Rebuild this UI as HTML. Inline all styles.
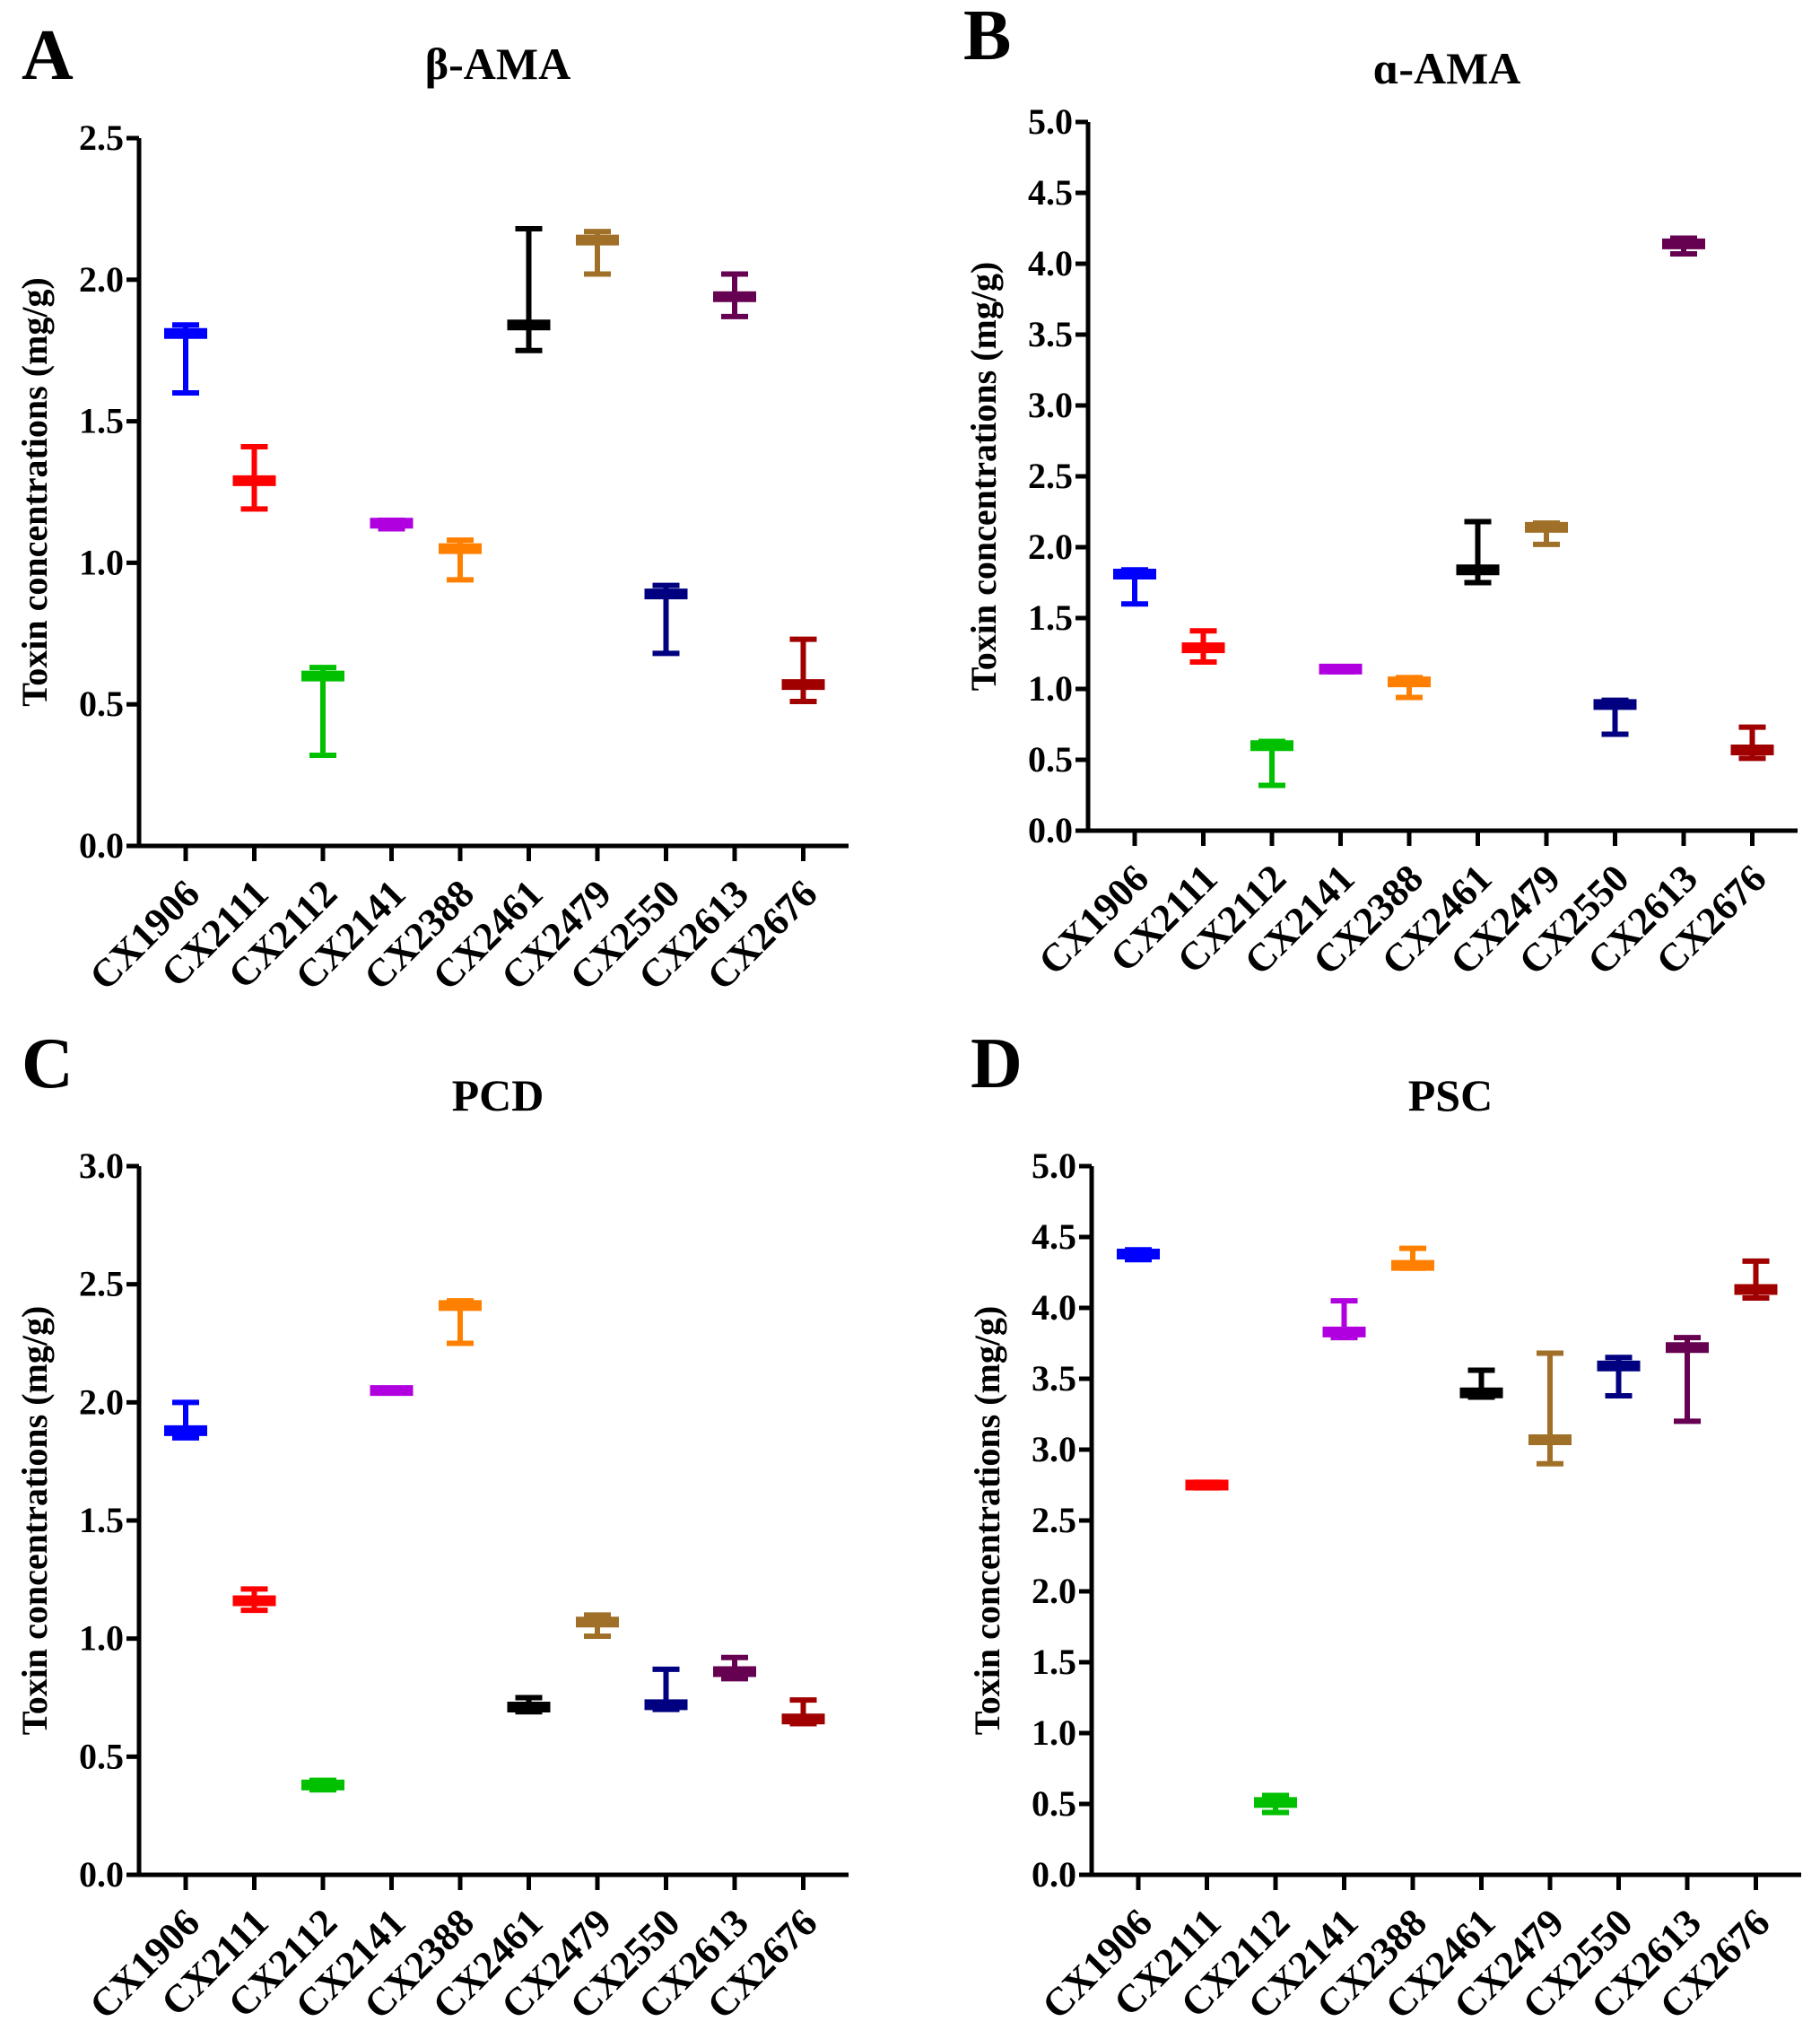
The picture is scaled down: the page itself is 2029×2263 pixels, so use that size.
<!DOCTYPE html>
<html><head><meta charset="utf-8"><style>
html,body{margin:0;padding:0;background:#fff;}
svg{display:block;font-family:"Liberation Serif",serif;font-weight:bold;}
</style></head><body>
<svg id="fig" width="2029" height="2263" viewBox="0 0 2029 2263" xmlns="http://www.w3.org/2000/svg"></svg>
<script>
const categories = ["CX1906","CX2111","CX2112","CX2141","CX2388","CX2461","CX2479","CX2550","CX2613","CX2676"];
const colors = ["#0000ff","#ff0000","#00c000","#b000e0","#ff8000","#000000","#a07028","#000080","#660050","#a00000"];
const betaMean = [1.81,1.29,0.60,1.14,1.05,1.84,2.14,0.89,1.94,0.57];
const betaLow  = [1.60,1.19,0.32,1.12,0.94,1.75,2.02,0.68,1.87,0.51];
const betaHigh = [1.84,1.41,0.63,1.15,1.08,2.18,2.17,0.92,2.02,0.73];
const alphaMean = [1.81,1.29,0.60,1.14,1.05,1.84,2.14,0.89,4.14,0.57];
const alphaLow  = [1.60,1.19,0.32,1.12,0.94,1.75,2.02,0.68,4.07,0.51];
const alphaHigh = [1.84,1.41,0.63,1.15,1.08,2.18,2.17,0.92,4.18,0.73];
const pcdMean = [1.88,1.16,0.38,2.05,2.41,0.71,1.07,0.72,0.86,0.66];
const pcdLow  = [1.85,1.12,0.36,2.04,2.25,0.69,1.01,0.70,0.83,0.64];
const pcdHigh = [2.00,1.21,0.40,2.06,2.43,0.75,1.10,0.87,0.92,0.74];
const pscMean = [4.38,2.75,0.51,3.83,4.30,3.40,3.07,3.59,3.72,4.13];
const pscLow  = [4.34,2.73,0.44,3.79,4.28,3.37,2.90,3.38,3.20,4.07];
const pscHigh = [4.41,2.77,0.56,4.05,4.42,3.56,3.68,3.65,3.79,4.33];
const ticks25 = ["0.0","0.5","1.0","1.5","2.0","2.5"];
const ticks30 = ["0.0","0.5","1.0","1.5","2.0","2.5","3.0"];
const ticks50 = ["0.0","0.5","1.0","1.5","2.0","2.5","3.0","3.5","4.0","4.5","5.0"];

const NS="http://www.w3.org/2000/svg";
const svg=document.getElementById('fig');
function mk(tag,attrs,parent){const e=document.createElementNS(NS,tag);for(const k in attrs)e.setAttribute(k,attrs[k]);(parent||svg).appendChild(e);return e;}

function panel(p){
  const g=mk('g',{});
  
  
  const x0=p.ax, y0=p.y0, yT=p.yT, xE=p.ax+791;
  const ymax=parseFloat(p.ticks[p.ticks.length-1]);
  const ys=v=>y0-(v/ymax)*(y0-yT);
  const c0=p.ax+52, step=76.5;
  const xs=i=>c0+i*step;
  const L=mk('text',{x:p.lx,y:p.ly,'font-size':80},g);L.textContent=p.letter;
  
  
  const T=mk('text',{x:p.ax+400,y:p.ty,'font-size':50,'text-anchor':'middle'},g);T.textContent=p.title;
  
  
  const yt=mk('text',{x:0,y:0,'font-size':40,'text-anchor':'middle',transform:`translate(${p.ax-103},${(y0+yT)/2}) rotate(-90)`},g);yt.textContent="Toxin concentrations (mg/g)";
  
  
  mk('line',{x1:x0,y1:yT,x2:x0,y2:y0+2.5,stroke:'#000','stroke-width':5},g);
  mk('line',{x1:x0-14,y1:y0,x2:xE,y2:y0,stroke:'#000','stroke-width':5},g);
  p.ticks.forEach(t=>{
    const y=ys(parseFloat(t));
    mk('line',{x1:x0-14,y1:y,x2:x0,y2:y,stroke:'#000','stroke-width':5},g);
    const tx=mk('text',{x:x0-17,y:y+13,'font-size':40,'text-anchor':'end'},g);tx.textContent=t;
    
    
  });
  categories.forEach((c,i)=>{
    const x=xs(i);
    mk('line',{x1:x,y1:y0,x2:x,y2:y0+17,stroke:'#000','stroke-width':5},g);
    const tx=mk('text',{x:0,y:0,'font-size':44,'text-anchor':'end',transform:`translate(${x+18},${y0+56}) rotate(-45)`},g);tx.textContent=c;
    
    
    const eg=mk('g',{},g);
    
    
    const col=colors[i];
    mk('line',{x1:x,y1:ys(p.low[i]),x2:x,y2:ys(p.high[i]),stroke:col,'stroke-width':6},eg);
    mk('line',{x1:x-15,y1:ys(p.low[i]),x2:x+15,y2:ys(p.low[i]),stroke:col,'stroke-width':6},eg);
    mk('line',{x1:x-15,y1:ys(p.high[i]),x2:x+15,y2:ys(p.high[i]),stroke:col,'stroke-width':6},eg);
    mk('line',{x1:x-24,y1:ys(p.mean[i]),x2:x+24,y2:ys(p.mean[i]),stroke:col,'stroke-width':12},eg);
  });
}
panel({letter:'A',title:'β-AMA',ax:155,yT:154,y0:943,lx:24,ly:88,ty:88,ticks:ticks25,mean:betaMean,low:betaLow,high:betaHigh});
panel({letter:'B',title:'ɑ-AMA',ax:1213,yT:136,y0:926,lx:1074,ly:66,ty:93,ticks:ticks50,mean:alphaMean,low:alphaLow,high:alphaHigh});
panel({letter:'C',title:'PCD',ax:155,yT:1300,y0:2090,lx:24,ly:1212,ty:1238,ticks:ticks30,mean:pcdMean,low:pcdLow,high:pcdHigh});
panel({letter:'D',title:'PSC',ax:1217,yT:1300,y0:2090,lx:1082,ly:1212,ty:1238,ticks:ticks50,mean:pscMean,low:pscLow,high:pscHigh});
</script>
</body></html>
